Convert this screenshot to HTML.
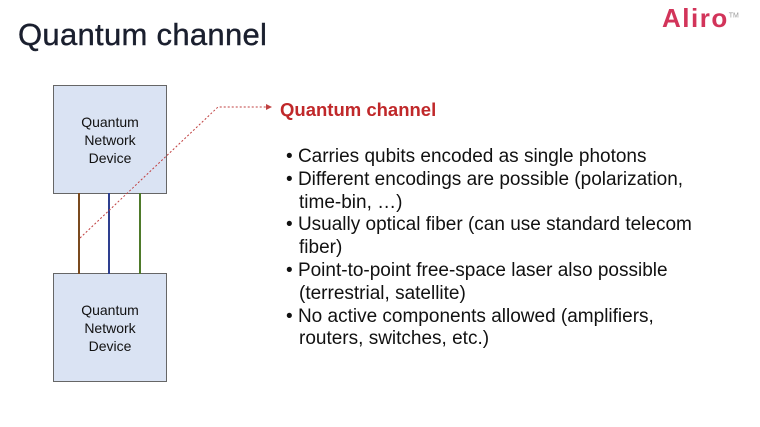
<!DOCTYPE html>
<html><head><style>
body{margin:0;width:760px;height:427px;background:#fff;position:relative;overflow:hidden;font-family:"Liberation Sans",Arial,sans-serif}
.t{position:absolute;left:18px;top:17px;font-size:31px;color:#1a1f2e;letter-spacing:0.3px;-webkit-text-stroke:0.4px #1a1f2e}
.logo{position:absolute;left:662px;top:3px;font-size:26px;font-weight:bold;color:#d2345a;letter-spacing:1.5px}
.logo sup{font-size:7px;font-weight:normal;color:#999;letter-spacing:0}
.box{position:absolute;left:53px;width:114px;height:109px;background:#dae3f3;border:1px solid #666;box-sizing:border-box;display:flex;align-items:center;justify-content:center;text-align:center;font-size:14px;line-height:18px;color:#111}
.h{position:absolute;left:280px;top:99px;font-size:18.5px;font-weight:bold;color:#c0282a}
ul{position:absolute;left:286px;top:146px;margin:0;padding:0;list-style:none;font-size:19px;line-height:22.8px;color:#111;width:420px}
li{padding-left:13px;text-indent:-13px}
li:before{content:"• ";}
</style></head><body>
<div class="t">Quantum channel</div>
<div class="logo">Aliro<sup>TM</sup></div>
<div class="box" style="top:85px">Quantum<br>Network<br>Device</div>
<div class="box" style="top:273px">Quantum<br>Network<br>Device</div>
<svg width="760" height="427" style="position:absolute;left:0;top:0">
<line x1="79" y1="193" x2="79" y2="274" stroke="#7a4a1e" stroke-width="2"/>
<line x1="109" y1="193" x2="109" y2="274" stroke="#2e3f8f" stroke-width="2"/>
<line x1="140" y1="193" x2="140" y2="274" stroke="#4e7a2a" stroke-width="2"/>
<polyline points="80,238 218,107 266,107" fill="none" stroke="#c04040" stroke-width="1" stroke-dasharray="2,2"/>
<polygon points="266,104 272,107 266,110" fill="#c04040"/>
</svg>
<div class="h">Quantum channel</div>
<ul>
<li>Carries qubits encoded as single photons</li>
<li>Different encodings are possible (polarization, time-bin, …)</li>
<li>Usually optical fiber (can use standard telecom fiber)</li>
<li>Point-to-point free-space laser also possible (terrestrial, satellite)</li>
<li>No active components allowed (amplifiers, routers, switches, etc.)</li>
</ul>
</body></html>
